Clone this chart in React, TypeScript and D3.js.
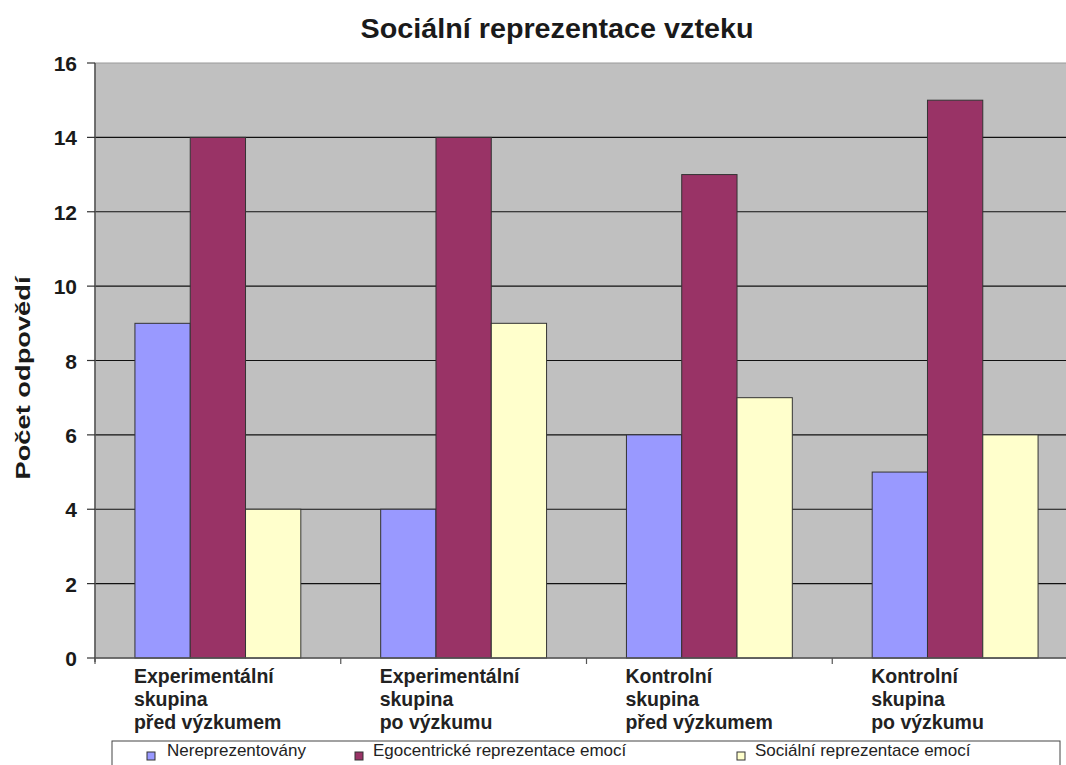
import React from "react";
import * as d3 from "d3";

const categories: string[][] = [
  ["Experimentální", "skupina", "před výzkumem"],
  ["Experimentální", "skupina", "po výzkumu"],
  ["Kontrolní", "skupina", "před výzkumem"],
  ["Kontrolní", "skupina", "po výzkumu"],
];
const seriesNames = ["Nereprezentovány", "Egocentrické reprezentace emocí", "Sociální reprezentace emocí"];
const nereprezentovany = [9, 4, 6, 5];
const egocentricke = [14, 14, 13, 15];
const socialni = [4, 9, 7, 6];
const yTicks = [0, 2, 4, 6, 8, 10, 12, 14, 16];
const colors = ["#9999FF", "#993366", "#FFFFCC"];

export default function App() {
  const W = 1066, H = 765;
  const left = 95, right = 1078, top = 63, bottom = 658;
  const series = [nereprezentovany, egocentricke, socialni];
  const x = d3.scaleBand<number>().domain(d3.range(categories.length)).range([left, right]).paddingInner(0).paddingOuter(0);
  const y = d3.scaleLinear().domain([0, 16]).range([bottom, top]);
  const bw = x.bandwidth();
  const barW = bw * 0.225;
  const gap = (bw - barW * 3) / 2;
  const font = "Arial, 'Liberation Sans', sans-serif";
  const legendSq = [147, 355, 737];
  const legendTx = [167, 373, 755];
  return (
    <svg width={W} height={H} style={{ position: "absolute", left: 0, top: 0, display: "block" }} fontFamily={font}>
      <rect x={0} y={0} width={W} height={H} fill="#fff" />
      <text x={557} y={38} textAnchor="middle" fontSize={28} fontWeight="bold" fill="#1a1a1a" textLength={393} lengthAdjust="spacingAndGlyphs">Sociální reprezentace vzteku</text>
      <rect x={left} y={top} width={right - left} height={bottom - top} fill="#C0C0C0" stroke="#999" strokeWidth={1} />
      {yTicks.slice(1, -1).map((t) => (
        <line key={"g" + t} x1={left} x2={right} y1={y(t)} y2={y(t)} stroke="#111" strokeWidth={1.2} />
      ))}
      {series.map((vals, si) =>
        vals.map((v, ci) => (
          <rect key={si + "-" + ci} x={(x(ci) as number) + gap + si * barW} y={y(v)} width={barW} height={y(0) - y(v)} fill={colors[si]} stroke="#333" strokeWidth={1} />
        ))
      )}
      <line x1={left} x2={left} y1={top} y2={bottom + 4} stroke="#555" strokeWidth={1.5} />
      <line x1={left} x2={right} y1={bottom} y2={bottom} stroke="#555" strokeWidth={1.5} />
      {yTicks.map((t) => (
        <g key={"t" + t}>
          <line x1={left - 8} x2={left} y1={y(t)} y2={y(t)} stroke="#333" strokeWidth={1.2} />
          <text x={77} y={y(t) + 8} textAnchor="end" fontSize={21} fontWeight="bold" fill="#1a1a1a">{t}</text>
        </g>
      ))}
      {d3.range(categories.length + 1).map((i) => (
        <line key={"ct" + i} x1={left + i * bw} x2={left + i * bw} y1={bottom} y2={bottom + 6} stroke="#555" strokeWidth={1.2} />
      ))}
      {categories.map((lines, ci) => (
        <text key={"c" + ci} fontSize={19.5} fontWeight="bold" fill="#222">
          {lines.map((l, li) => (
            <tspan key={li} x={(x(ci) as number) + gap - 1} y={683 + li * 23}>{l}</tspan>
          ))}
        </text>
      ))}
      <text transform={`translate(30,${378}) rotate(-90)`} textAnchor="middle" fontSize={21} fontWeight="bold" fill="#1a1a1a" textLength={203} lengthAdjust="spacingAndGlyphs">Počet odpovědí</text>
      <rect x={112} y={741} width={948} height={40} fill="#fff" stroke="#444" strokeWidth={1} />
      {seriesNames.map((n, i) => (
        <g key={"l" + i}>
          <rect x={legendSq[i]} y={752} width={8} height={8} fill={colors[i]} stroke="#333" strokeWidth={1} />
          <text x={legendTx[i]} y={756} fontSize={17} fill="#222">{n}</text>
        </g>
      ))}
    </svg>
  );
}
